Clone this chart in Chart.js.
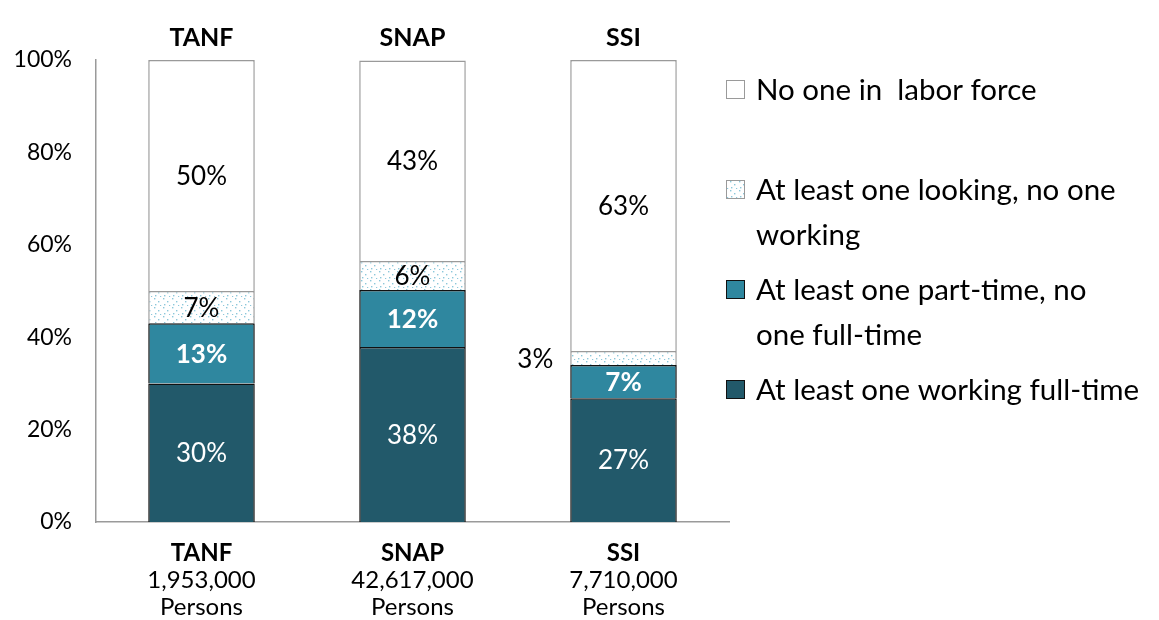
<!DOCTYPE html>
<html>
<head>
<meta charset="utf-8">
<script src="https://cdn.jsdelivr.net/npm/chart.js@4/dist/chart.umd.min.js"></script>
<style>
  html, body { margin: 0; padding: 0; background: #fff; }
  #wrap { width: 1159px; height: 620px; position: relative; }
</style>
</head>
<body>
<div id="wrap"><canvas id="laborChart"></canvas></div>
<script>
// data
var categories = ['TANF', 'SNAP', 'SSI'];
var persons = ['1,953,000', '42,617,000', '7,710,000'];
var fullTime = [30, 37.9, 26.8];
var partTime = [13, 12.3, 7.2];
var looking = [7, 6.3, 3];
var noOne = [50, 43.4, 63];
var seriesNames = [
    ['No one in  labor force'],
    ['At least one looking, no one', 'working'],
    ['At least one part-time, no', 'one full-time'],
    ['At least one working full-time']
];
var yTicks = [0, 20, 40, 60, 80, 100];

var FONT = 'Lato, "Open Sans", sans-serif';
var DARK = '#22596a';
var MID = '#2f879f';

// dotted fill for the "looking" segment
function dots() {
    var c = document.createElement('canvas');
    c.width = 9; c.height = 9;
    var g = c.getContext('2d');
    g.fillStyle = '#fff';
    g.fillRect(0, 0, 9, 9);
    g.fillStyle = '#8cc7da';
    g.fillRect(1, 1, 1.4, 1.4);
    g.fillRect(5, 4, 1.4, 1.4);
    g.fillRect(2, 7, 1.4, 1.4);
    g.fillRect(7, 8, 1.2, 1.2);
    return g.createPattern(c, 'repeat');
}
var dotFill = dots();

// label style per dataset: [color, bold]
var labelStyle = [['#fff', false], ['#fff', true], ['#000', false], ['#000', false]];

var barLabels = {
    id: 'barLabels',
    afterDatasetsDraw: function(chart) {
        var ctx = chart.ctx;
        ctx.save();
        ctx.textAlign = 'center';
        ctx.textBaseline = 'middle';
        chart.data.datasets.forEach(function(ds, di) {
            var meta = chart.getDatasetMeta(di);
            meta.data.forEach(function(el, i) {
                var v = Math.round(ds.data[i]);
                var st = labelStyle[di];
                ctx.fillStyle = st[0];
                ctx.font = (st[1] ? 'bold ' : '') + '26px ' + FONT;
                var y = (el.y + el.base) / 2;
                if (v <= 3) {
                    ctx.fillStyle = '#000';
                    ctx.textAlign = 'right';
                    ctx.fillText(v + '%', el.x - el.width / 2 - 17, y + 2);
                    ctx.textAlign = 'center';
                } else {
                    ctx.fillText(v + '%', el.x, y + 1);
                }
            });
        });
        ctx.restore();
    }
};

// legend drawn on the right, items in reverse dataset order like the original
var sideLegend = {
    id: 'sideLegend',
    afterDraw: function(chart) {
        var ctx = chart.ctx;
        var top = chart.chartArea.top;
        ctx.save();
        ctx.font = '29.5px ' + FONT;
        ctx.textBaseline = 'middle';
        ctx.textAlign = 'left';
        var order = [3, 2, 1, 0];
        order.forEach(function(di, k) {
            var ds = chart.data.datasets[di];
            var y = top + 30 + k * 100;
            ctx.fillStyle = ds.backgroundColor;
            ctx.fillRect(726, y - 10, 19, 19);
            ctx.lineWidth = 1;
            ctx.strokeStyle = ds.borderColor;
            ctx.strokeRect(726.5, y - 9.5, 18, 18);
            ctx.fillStyle = '#000';
            ds.legendLines.forEach(function(line, j) {
                ctx.fillText(line, 756, y + j * 45);
            });
        });
        ctx.restore();
    }
};

var ctx = document.getElementById('laborChart').getContext('2d');
var chart = new Chart(ctx, {
    type: 'bar',
    data: {
        labels: categories,
        datasets: [
            { label: seriesNames[3].join(' '), legendLines: seriesNames[3], data: fullTime,
              backgroundColor: DARK, borderColor: '#111', borderWidth: 1.5 },
            { label: seriesNames[2].join(' '), legendLines: seriesNames[2], data: partTime,
              backgroundColor: MID, borderColor: '#111', borderWidth: 1.5 },
            { label: seriesNames[1].join(' '), legendLines: seriesNames[1], data: looking,
              backgroundColor: dotFill, borderColor: '#9a9a9a', borderWidth: 1.5 },
            { label: seriesNames[0].join(' '), legendLines: seriesNames[0], data: noOne,
              backgroundColor: '#fff', borderColor: '#9a9a9a', borderWidth: 1.5 }
        ]
    },
    options: {
        responsive: true,
        maintainAspectRatio: false,
        animation: false,
        layout: { padding: { left: 0, right: 430, top: 0, bottom: 0 } },
        datasets: { bar: { categoryPercentage: 1, barPercentage: 0.505 } },
        plugins: {
            legend: { display: false },
            tooltip: { enabled: false }
        },
        scales: {
            x: {
                stacked: true,
                position: 'bottom',
                grid: { display: false, drawTicks: false },
                border: { display: true, color: '#9a9a9a', width: 1.5 },
                ticks: { color: '#000', padding: 17, font: { family: FONT, size: 24, weight: 'bold' } },
                afterFit: function(s) { s.height = 44; }
            },
            xPersons: {
                type: 'category',
                labels: categories,
                position: 'bottom',
                grid: { display: false, drawTicks: false },
                border: { display: false },
                ticks: {
                    color: '#000', padding: 1,
                    font: { family: FONT, size: 24, lineHeight: 1.12 },
                    callback: function(v, i) { return [persons[i], 'Persons']; }
                },
                afterFit: function(s) { s.height = 54; }
            },
            xTop: {
                type: 'category',
                labels: categories,
                position: 'top',
                grid: { display: false, drawTicks: false },
                border: { display: false },
                ticks: { color: '#000', padding: 7, font: { family: FONT, size: 25, weight: 'bold' } },
                afterFit: function(s) { s.height = 60; }
            },
            y: {
                stacked: true,
                min: 0,
                max: 100,
                grid: { display: false, drawTicks: false },
                border: { display: true, color: '#9a9a9a', width: 1.5 },
                afterBuildTicks: function(s) { s.ticks = yTicks.map(function(v) { return { value: v }; }); },
                ticks: {
                    color: '#000', padding: 24,
                    font: { family: FONT, size: 23 },
                    callback: function(v) { return v + '%'; }
                },
                afterFit: function(s) { s.width = 96; }
            }
        }
    },
    plugins: [barLabels, sideLegend]
});
</script>
</body>
</html>
